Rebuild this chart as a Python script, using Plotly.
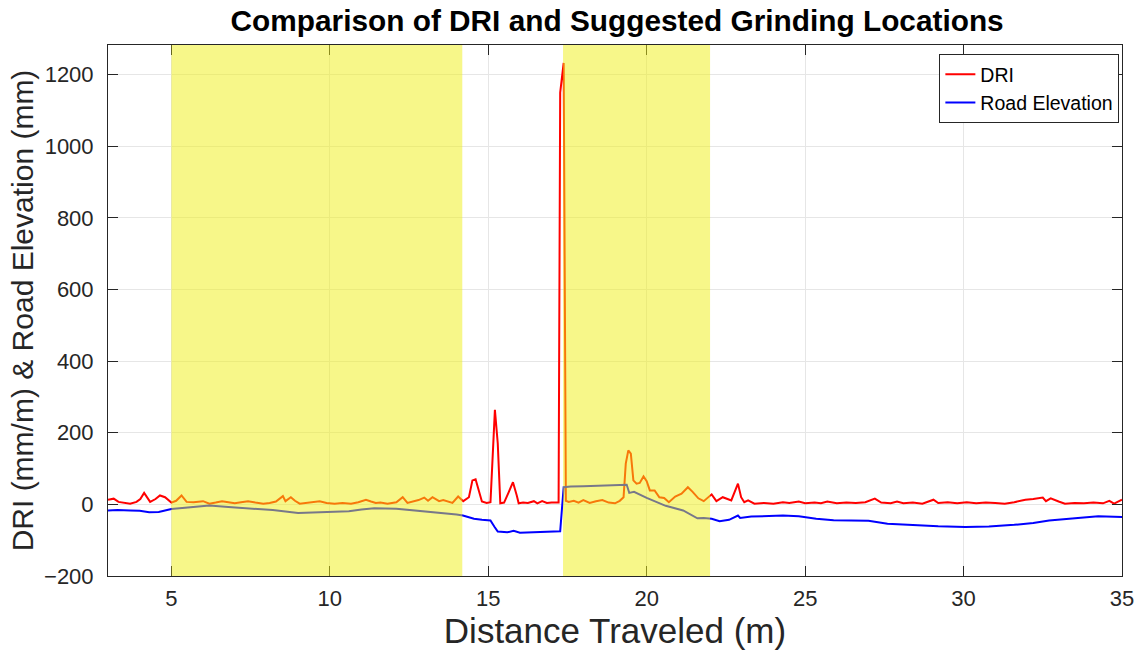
import plotly.graph_objects as go

dri_x = [3.0, 3.18, 3.33, 3.5, 3.7, 3.9, 4.02, 4.14, 4.25, 4.33, 4.5, 4.64, 4.8, 4.9, 5.0, 5.15, 5.32, 5.48, 5.7,
         6.0, 6.2, 6.4, 6.6, 6.8, 7.0, 7.2, 7.42, 7.65, 7.9, 8.1, 8.3, 8.52, 8.6, 8.77, 8.9, 9.05, 9.3, 9.5, 9.68,
         9.9, 10.15, 10.4, 10.67, 10.9, 11.14, 11.3, 11.45, 11.6, 11.82, 12.1, 12.3, 12.45, 12.66, 12.8, 12.98,
         13.1, 13.24, 13.35, 13.45, 13.58, 13.7, 13.87, 14.05, 14.21, 14.39, 14.5, 14.6, 14.7, 14.8, 14.95, 15.07,
         15.21, 15.3, 15.38, 15.5, 15.65, 15.78, 15.9, 15.96, 16.1, 16.25, 16.44, 16.55, 16.7, 16.85, 17.0, 17.15,
         17.22, 17.27, 17.38, 17.45, 17.54, 17.7, 17.85, 18.0, 18.2, 18.4, 18.6, 18.8, 19.0, 19.15, 19.27, 19.34,
         19.42, 19.5, 19.58, 19.68, 19.78, 19.9, 20.0, 20.1, 20.25, 20.4, 20.55, 20.7, 20.9, 21.1, 21.3, 21.45,
         21.63, 21.8, 22.05, 22.2, 22.4, 22.55, 22.67, 22.88, 22.98, 23.08, 23.2, 23.4, 23.7, 24.0, 24.3, 24.5,
         24.8, 25.0, 25.3, 25.5, 25.7, 26.0, 26.3, 26.6, 26.9, 27.2, 27.4, 27.7, 27.9, 28.1, 28.4, 28.7, 29.05,
         29.2, 29.5, 29.8, 30.1, 30.4, 30.7, 31.0, 31.3, 31.6, 31.95, 32.2, 32.5, 32.6, 32.75, 33.0, 33.2, 33.5,
         33.8, 34.1, 34.4, 34.6, 34.75, 35.0]
dri_y = [13, 16, 7, 5, 2, 7, 15, 32, 18, 7, 15, 25, 20, 12, 5, 10, 25, 7, 6,
         9, 2, 5, 9, 6, 3, 6, 9, 5, 2, 4, 8, 23, 9, 20, 10, 2, 5, 8, 9,
         4, 2, 4, 2, 6, 13, 8, 4, 5, 2, 6, 20, 4, 9, 12, 19,
         10, 20, 14, 9, 12, 9, 4, 22, 9, 20, 67, 70, 40, 8, 4, 6,
         264, 170, 3, 5, 35, 62, 25, 3, 5, 4, 9, 3, 9, 4, 5, 4,
         5, 1150, 1233, 10, 7, 10, 5, 12, 4, 9, 12, 5, 3, 10, 20, 114,
         151, 142, 67, 58, 60, 78, 65, 39, 39, 20, 18, 6, 22, 30, 48, 35,
         17, 9, 28, 9, 20, 15, 11, 58, 20, 6, 11, 2, 4, 2, 6, 4,
         8, 3, 5, 3, 8, 3, 5, 4, 6, 16, 5, 3, 8, 3, 5, 2, 13,
         4, 6, 3, 6, 3, 5, 4, 2, 6, 13, 15, 19, 9, 17, 8, 2, 4,
         3, 5, 3, 10, 2, 13]

elev_x = [3.0, 3.3, 3.7, 4.0, 4.3, 4.6, 5.0, 5.5, 6.2, 6.8, 7.5, 8.2, 9.0, 9.5, 10.0, 10.6, 11.0, 11.4, 12.1,
          12.6, 13.2, 13.7, 14.0, 14.2, 14.55, 14.8, 15.07, 15.2, 15.3, 15.6, 15.8, 16.0, 16.5, 17.0, 17.27,
          17.38, 17.6, 18.0, 18.6, 19.0, 19.37, 19.45, 19.6, 20.0, 20.3, 20.6, 21.15, 21.4, 21.6, 21.8, 22.05,
          22.3, 22.6, 22.88, 22.95, 23.3, 23.8, 24.3, 24.8, 25.35, 25.9, 26.4, 27.0, 27.6, 28.5, 29.2, 30.06,
          30.8, 31.6, 32.2, 32.7, 33.2, 33.7, 34.25, 34.6, 35.0]
elev_y = [-17, -16, -17, -18, -22, -21, -13, -8, -3, -7, -12, -16, -24, -22, -21, -19, -14, -11, -12,
          -16, -22, -25, -28, -31, -40, -43, -45, -63, -76, -78, -74, -79, -77, -76, -75,
          48, 50, 51, 53, 54, 55, 32, 35, 18, 8, -4, -17, -28, -39, -38, -40,
          -47, -43, -31, -38, -34, -33, -31, -33, -40, -44, -45, -46, -54, -59, -61, -63,
          -62, -57, -52, -45, -40, -37, -33, -34, -35]

grind_start = [5.0, 17.36]
grind_end = [14.18, 22.0]

x_ticks = [5, 10, 15, 20, 25, 30, 35]
y_ticks = [-200, 0, 200, 400, 600, 800, 1000, 1200]

AX = "#262626"
FONT = "Liberation Sans, Arial, sans-serif"

fig = go.Figure()
fig.add_trace(go.Scatter(x=dri_x, y=dri_y, mode="lines", name="DRI",
                         line=dict(color="#ff0000", width=2)))
fig.add_trace(go.Scatter(x=elev_x, y=elev_y, mode="lines", name="Road Elevation",
                         line=dict(color="#0000ff", width=2)))

for s, e in zip(grind_start, grind_end):
    fig.add_shape(type="rect", xref="x", yref="paper", x0=s, x1=e, y0=0, y1=1,
                  fillcolor="rgba(240,240,20,0.5)", line=dict(width=0), layer="above")

fig.update_layout(
    width=1146, height=654,
    margin=dict(l=108, r=19, t=45, b=78),
    paper_bgcolor="white", plot_bgcolor="white",
    font=dict(family=FONT, color=AX),
    title=dict(text="<b>Comparison of DRI and Suggested Grinding Locations</b>",
               x=0.5385, xanchor="center", y=0.968, yanchor="middle",
               font=dict(size=29.8, color="black", family=FONT)),
    showlegend=True,
    legend=dict(x=0.9974, xanchor="right", y=0.983, yanchor="top",
                bgcolor="white", bordercolor=AX, borderwidth=1,
                font=dict(size=19.5, color="black", family=FONT),
                tracegroupgap=0, itemwidth=30),
)
fig.update_xaxes(range=[3, 35], tickvals=x_ticks, ticks="inside", ticklen=10, tickcolor=AX,
                 showline=True, linecolor=AX, linewidth=1, mirror="ticks",
                 showgrid=True, gridcolor="#e6e6e6", gridwidth=1, zeroline=False,
                 tickfont=dict(size=22, color=AX), ticklabelstandoff=3,
                 title=dict(text="Distance Traveled (m)", font=dict(size=35, color=AX), standoff=2))
fig.update_yaxes(range=[-200, 1283], tickvals=y_ticks, ticks="inside", ticklen=10, tickcolor=AX,
                 showline=True, linecolor=AX, linewidth=1, mirror="ticks",
                 showgrid=True, gridcolor="#e6e6e6", gridwidth=1, zeroline=False,
                 tickfont=dict(size=22, color=AX), ticklabelstandoff=9,
                 title=dict(text="DRI (mm/m) & Road Elevation (mm)", font=dict(size=30, color=AX), standoff=1))

fig.write_html("out.html")
